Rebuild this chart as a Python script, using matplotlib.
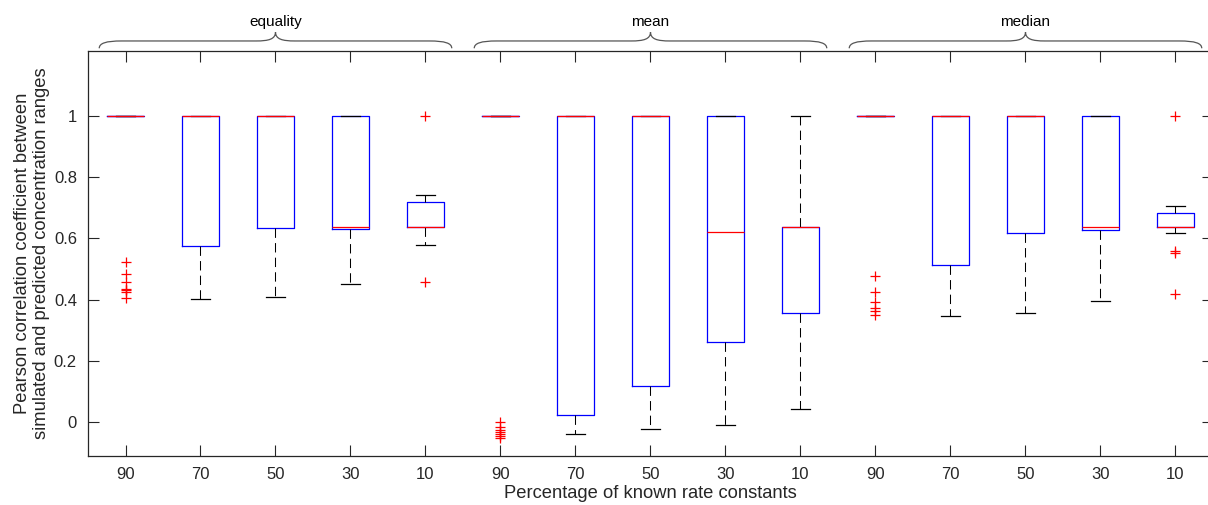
import numpy as np
import matplotlib
matplotlib.use("Agg")
import matplotlib.pyplot as plt
import matplotlib.transforms as mtransforms
from matplotlib.path import Path
from matplotlib.patches import PathPatch

plt.rcParams['font.family'] = ['Liberation Sans', 'DejaVu Sans']

# ── Dados ─────────────────────────────────────────────────────────────────────
grupos = ['equality', 'mean', 'median']
pct = ['90', '70', '50', '30', '10']

medianas = [1, 1, 1, 0.636, 0.637,
            1, 1, 1, 0.620, 0.636,
            1, 1, 1, 0.636, 0.637]
q1 = [1, 0.576, 0.633, 0.630, 0.637,
      1, 0.023, 0.118, 0.262, 0.356,
      1, 0.514, 0.618, 0.627, 0.637]
q3 = [1, 1, 1, 1, 0.720,
      1, 1, 1, 1, 0.636,
      1, 1, 1, 1, 0.684]
whis_lo = [1, 0.401, 0.407, 0.451, 0.577,
           1, -0.038, -0.022, -0.009, 0.042,
           1, 0.347, 0.356, 0.395, 0.619]
whis_hi = [1, 1, 1, 1, 0.740,
           1, 1, 1, 1, 1.0,
           1, 1, 1, 1, 0.707]
outliers = [
    [0.524, 0.485, 0.457, 0.435, 0.430, 0.426, 0.404],
    [], [], [],
    [1.0, 0.458],
    [0.001, -0.015, -0.025, -0.033, -0.040, -0.047, -0.052],
    [], [], [], [],
    [0.478, 0.426, 0.391, 0.372, 0.364, 0.350],
    [], [], [],
    [1.0, 0.560, 0.551, 0.417],
]

COR_EIXO = '#262626'


def chave(ax, x0, x1, cor='#555555'):
    """Chave horizontal (tipo '{' deitada) acima do eixo, x em dados."""
    tr = mtransforms.blended_transform_factory(ax.transData, ax.transAxes)
    ye, yh, yp = 1.006, 1.024, 1.046
    xm = 0.5 * (x0 + x1)
    d, dc = 0.30, 0.26
    verts = [
        (x0, ye),
        (x0, ye + 0.7 * (yh - ye)), (x0 + 0.3 * d, yh), (x0 + d, yh),
        (xm - dc, yh),
        (xm - 0.35 * dc, yh), (xm, yh + 0.2 * (yp - yh)), (xm, yp),
        (xm, yh + 0.2 * (yp - yh)), (xm + 0.35 * dc, yh), (xm + dc, yh),
        (x1 - d, yh),
        (x1 - 0.3 * d, yh), (x1, ye + 0.7 * (yh - ye)), (x1, ye),
    ]
    codes = [Path.MOVETO,
             Path.CURVE4, Path.CURVE4, Path.CURVE4,
             Path.LINETO,
             Path.CURVE4, Path.CURVE4, Path.CURVE4,
             Path.CURVE4, Path.CURVE4, Path.CURVE4,
             Path.LINETO,
             Path.CURVE4, Path.CURVE4, Path.CURVE4]
    ax.add_patch(PathPatch(Path(verts, codes), fill=False, edgecolor=cor,
                           lw=0.9, transform=tr, clip_on=False))


fig = plt.figure(figsize=(12.08, 5.05), dpi=100)
ax = fig.add_axes([88 / 1208, 49 / 505, 1125 / 1208, 405.3 / 505])

stats = []
for i in range(len(medianas)):
    stats.append(dict(med=medianas[i], q1=q1[i], q3=q3[i],
                      whislo=whis_lo[i], whishi=whis_hi[i],
                      fliers=np.array(outliers[i])))

pos = np.arange(1, len(stats) + 1)
ax.bxp(stats, positions=pos, widths=0.5, capwidths=0.25, showfliers=True,
       boxprops=dict(color='#0000ff', lw=0.9),
       medianprops=dict(color='#ff0000', lw=0.9),
       whiskerprops=dict(color='black', lw=0.75, linestyle=(0, (9, 5))),
       capprops=dict(color='black', lw=0.9),
       flierprops=dict(marker='+', markeredgecolor='#ff0000',
                       markersize=7, markeredgewidth=0.9, linestyle='none'))

ax.set_xlim(0.5, 15.5)
ax.set_ylim(-0.111, 1.213)
ax.set_xticks(pos)
ax.set_xticklabels(pct * len(grupos))
ax.set_yticks([0, 0.2, 0.4, 0.6, 0.8, 1])
ax.set_yticklabels(['0', '0.2', '0.4', '0.6', '0.8', '1'])
ax.tick_params(direction='in', length=8, width=0.8, colors=COR_EIXO,
               labelsize=12, top=True, right=True, pad=8)
for sp in ax.spines.values():
    sp.set_color(COR_EIXO)
    sp.set_linewidth(0.9)

ax.set_xlabel('Percentage of known rate constants', fontsize=13.2,
              color=COR_EIXO, labelpad=2)
ax.set_ylabel('Pearson correlation coefficient between\n'
              'simulated and predicted concentration ranges',
              fontsize=13.2, color=COR_EIXO, labelpad=3, linespacing=1.15)

# chaves dos grupos
for k, g in enumerate(grupos):
    xc = 3 + 5 * k
    chave(ax, xc - 2.35, xc + 2.35)
    ax.text(xc, 1.071, g, transform=mtransforms.blended_transform_factory(
        ax.transData, ax.transAxes), ha='center', va='center',
        fontsize=11, color='black')

fig.savefig('out.png', dpi=100)
